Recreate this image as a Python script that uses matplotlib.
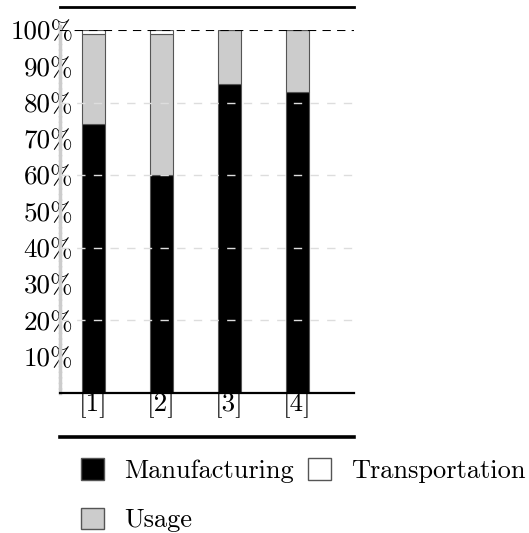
import numpy as np
import matplotlib
matplotlib.use("Agg")
import matplotlib.pyplot as plt
from matplotlib.patches import Patch

plt.rcParams['font.family'] = ['cmr10', 'DejaVu Sans']
plt.rcParams['mathtext.fontset'] = 'cm'
plt.rcParams['axes.unicode_minus'] = False

# data (percent of total)
labels = ["[1]", "[2]", "[3]", "[4]"]
manufacturing = [74, 60, 85, 83]
usage = [25, 39, 15, 17]
transportation = [1, 1, 0, 0]
yticks = [10, 20, 30, 40, 50, 60, 70, 80, 90, 100]
ytick_labels = ["10%", "20%", "30%", "40%", "50%", "60%", "70%", "80%", "90%", "100%"]

fig = plt.figure(figsize=(5.29, 5.33), dpi=100)
ax = fig.add_axes([60 / 529, 1 - 393 / 533, 294 / 529, 363 / 533])

x = np.arange(len(labels))
w = 0.34
edge = "#555555"
ax.bar(x, manufacturing, w, color="black", edgecolor=edge, linewidth=0.8, zorder=2)
ax.bar(x, usage, w, bottom=manufacturing, color="#cccccc", edgecolor=edge, linewidth=0.8, zorder=2)
bottom2 = np.array(manufacturing) + np.array(usage)
ax.bar(x, transportation, w, bottom=bottom2, color="white", edgecolor=edge, linewidth=0.8, zorder=2)

ax.set_xlim(-0.49, 3.83)
ax.set_ylim(0, 100)

# light dashed grid over the bars
for g in [20, 40, 60, 80]:
    ax.axhline(g, color="#dddddd", linestyle=(0, (6, 6)), linewidth=1.0, zorder=3)
ax.axhline(100, color="black", linestyle=(0, (4, 3)), linewidth=1.5, zorder=3)

# rules above and below
ax.axhline(106.3, color="black", linewidth=2, clip_on=False)
ax.axhline(-12.2, color="black", linewidth=2.6, clip_on=False)

for s in ["top", "right"]:
    ax.spines[s].set_visible(False)
ax.spines["bottom"].set_linewidth(1.6)
ax.spines["left"].set_color("#cccccc")
ax.spines["left"].set_linewidth(2.5)
ax.spines["left"].set_linestyle((0, (1, 0.6)))
ax.spines["left"].set_bounds(0, 101)

ax.set_yticks(yticks)
ax.set_yticklabels(ytick_labels)
ax.set_xticks(x)
ax.set_xticklabels(labels)
ax.tick_params(axis="y", length=0, pad=-9.5, labelsize=19.5)
ax.tick_params(axis="x", length=0, pad=-1, labelsize=19.5)

handles = [Patch(facecolor="black", edgecolor=edge, label="Manufacturing"),
           Patch(facecolor="#cccccc", edgecolor=edge, label="Usage"),
           Patch(facecolor="white", edgecolor=edge, label="Transportation")]
fig.legend(handles=handles, ncol=2, loc="upper left", bbox_to_anchor=(0.1285, 0.165),
           frameon=False, fontsize=19, handlelength=0.87, handleheight=0.87,
           handletextpad=0.75, columnspacing=0.55, labelspacing=0.93, borderpad=0)

fig.savefig("out.png", dpi=100)
